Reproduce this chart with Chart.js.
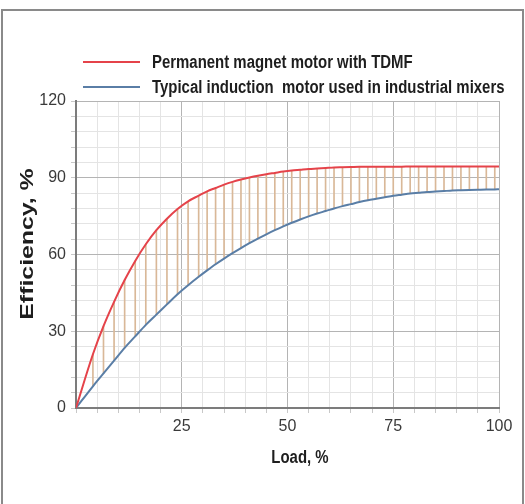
<!DOCTYPE html>
<html>
<head>
<meta charset="utf-8">
<script src="https://cdn.jsdelivr.net/npm/chart.js@4.4.1/dist/chart.umd.min.js"></script>
<style>
  html, body { margin: 0; padding: 0; background: #fff; }
  #frame { position: absolute; left: 1px; top: 9px; width: 519px; height: 520px; border: 2px solid #8a8a8a; }
  #wrap { position: absolute; left: 0; top: 0; width: 525px; height: 504px; }
</style>
</head>
<body>
<div id="frame"></div>
<div id="wrap"><canvas id="effChart" width="525" height="504"></canvas></div>
<script>
// load points (%)
const loads = [0, 4, 6.5, 9, 11.5, 14, 16.5, 19, 21.5, 24, 26.5, 29, 31, 33, 35, 37, 39, 41, 43, 45, 47, 49,
  51, 53, 55, 57, 59, 61, 63, 65, 67, 69, 71, 73, 75, 77, 79, 81, 83, 85, 87, 89, 91, 93, 95, 97, 99, 100];

// permanent magnet motor with TDMF
const pmEff = [0, 21, 32, 41.5, 50, 57.5, 64, 69.5, 74, 77.8, 80.8, 83, 84.7, 86, 87.3, 88.4, 89.3, 90.1, 90.8, 91.4, 91.9, 92.4,
  92.8, 93.1, 93.4, 93.6, 93.8, 94, 94.1, 94.2, 94.3, 94.3, 94.3, 94.3, 94.3, 94.3, 94.4, 94.4, 94.4, 94.4, 94.4, 94.4, 94.4, 94.4, 94.4, 94.4, 94.4, 94.4];

// typical induction motor
const imEff = [0, 8.5, 13.5, 18.5, 23.5, 28, 32.5, 36.5, 40.5, 44.5, 48, 51.3, 53.8, 56.2, 58.4, 60.5, 62.5, 64.4, 66.2, 67.9, 69.5, 71,
  72.4, 73.7, 74.9, 76, 77, 78, 78.9, 79.7, 80.5, 81.2, 81.8, 82.4, 83, 83.4, 83.8, 84.1, 84.4, 84.6, 84.8, 85, 85.1, 85.2, 85.3, 85.4, 85.4, 85.5];

const seriesNames = ['Permanent magnet motor with TDMF', 'Typical induction  motor used in industrial mixers'];
const yLabels = [0, 30, 60, 90, 120];
const xLabels = [25, 50, 75, 100];
const xTitle = 'Load, %';
const yTitle = 'Efficiency, %';

const font = '"Liberation Sans", Arial, sans-serif';

// vertical lines between the two curves
const gapData = loads.slice(1, -1).map((x, i) => ({ x: x, y: [imEff[i + 1], pmEff[i + 1]] }));

// legend + axis titles, the original text looks squeezed sideways
const extraText = {
  id: 'extraText',
  afterDraw(chart) {
    const ctx = chart.ctx;
    const rows = chart.data.datasets.filter(d => d.label);
    ctx.save();
    ctx.font = 'bold 18px ' + font;
    ctx.textBaseline = 'middle';
    ctx.fillStyle = '#1e1e1e';
    rows.forEach((d, i) => {
      const y = 62 + i * 25;
      ctx.strokeStyle = d.borderColor;
      ctx.lineWidth = 2;
      ctx.beginPath();
      ctx.moveTo(83, y);
      ctx.lineTo(140, y);
      ctx.stroke();
      ctx.save();
      ctx.translate(152, y + 1);
      ctx.scale(0.83, 1);
      ctx.fillText(d.label, 0, 0);
      ctx.restore();
    });

    ctx.textAlign = 'center';
    // x title
    ctx.save();
    ctx.translate(300, 458);
    ctx.scale(0.83, 1);
    ctx.fillText(xTitle, 0, 0);
    ctx.restore();
    // y title
    ctx.save();
    ctx.translate(28, 244);
    ctx.rotate(-Math.PI / 2);
    ctx.scale(1.38, 1);
    ctx.fillText(yTitle, 0, 0);
    ctx.restore();
    ctx.restore();
  }
};

const gridCol = (major) => (ctx) => (ctx.tick && ctx.tick.value % major === 0) ? '#b4b4b4' : '#e4e4e4';

const ctx = document.getElementById('effChart').getContext('2d');
new Chart(ctx, {
  type: 'line',
  data: {
    datasets: [
      {
        label: seriesNames[0],
        data: loads.map((x, i) => ({ x: x, y: pmEff[i] })),
        borderColor: '#e5434a',
        borderWidth: 2,
        pointRadius: 0,
        cubicInterpolationMode: 'monotone',
        order: 1
      },
      {
        label: seriesNames[1],
        data: loads.map((x, i) => ({ x: x, y: imEff[i] })),
        borderColor: '#5a7ea6',
        borderWidth: 2,
        pointRadius: 0,
        cubicInterpolationMode: 'monotone',
        order: 1
      },
      {
        type: 'bar',
        data: gapData,
        backgroundColor: '#d9b898',
        barThickness: 1,
        order: 2
      }
    ]
  },
  options: {
    responsive: false,
    animation: false,
    layout: { padding: { top: 101, right: 26, left: 0, bottom: 0 } },
    plugins: { legend: { display: false }, tooltip: { enabled: false } },
    scales: {
      x: {
        type: 'linear',
        min: 0,
        max: 100,
        offset: false,
        afterFit: (s) => { s.height = 96; },
        grid: { offset: false, color: gridCol(25), tickLength: 5, tickColor: '#c8c8c8' },
        border: { color: '#7c7c7c', width: 2 },
        ticks: {
          stepSize: 5,
          autoSkip: false,
          maxRotation: 0,
          padding: 4,
          color: '#3a3a3a',
          font: { family: font, size: 16 },
          callback: (v) => xLabels.includes(v) ? String(v) : ''
        }
      },
      y: {
        min: 0,
        max: 120,
        afterFit: (s) => { s.width = 76; },
        grid: { color: gridCol(30), tickLength: 5, tickColor: '#c8c8c8' },
        border: { color: '#7c7c7c', width: 2 },
        ticks: {
          stepSize: 6,
          autoSkip: false,
          padding: 5,
          color: '#3a3a3a',
          font: { family: font, size: 16 },
          callback: (v) => yLabels.includes(v) ? String(v) : ''
        }
      }
    }
  },
  plugins: [extraText]
});
</script>
</body>
</html>
